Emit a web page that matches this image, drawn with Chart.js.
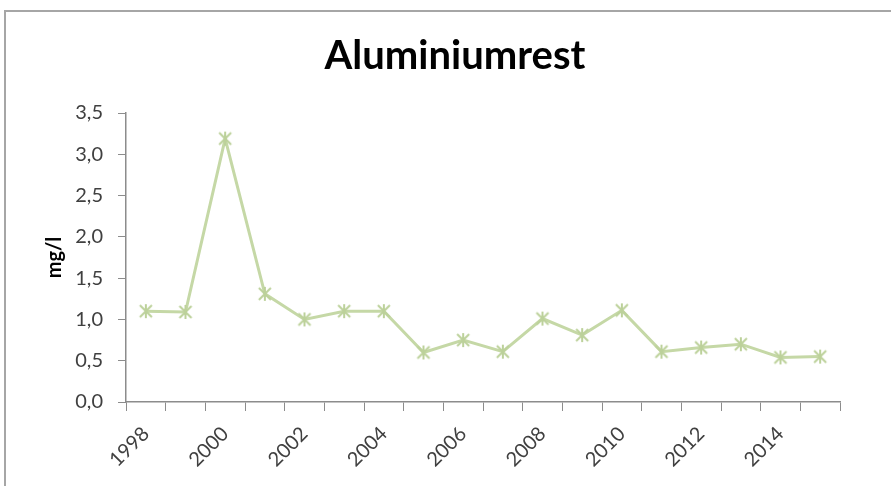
<!DOCTYPE html>
<html>
<head>
<meta charset="utf-8">
<script src="https://cdn.jsdelivr.net/npm/chart.js@4"></script>
<style>
  html, body { margin: 0; padding: 0; background: #fff; }
  #wrap { position: relative; width: 891px; height: 486px; overflow: hidden; }
  #frame { position: absolute; left: 4px; top: 10px; width: 900px; height: 500px; border: 2px solid #a6a6a6; box-sizing: border-box; }
  canvas { position: absolute; left: 0; top: 0; }
</style>
</head>
<body>
<div id="wrap">
  <div id="frame"></div>
  <canvas id="chart" width="891" height="486"></canvas>
</div>
<script>
var years = ['1998', '1999', '2000', '2001', '2002', '2003', '2004', '2005', '2006',
             '2007', '2008', '2009', '2010', '2011', '2012', '2013', '2014', '2015'];
var aluminium = [1.1, 1.09, 3.19, 1.31, 1.0, 1.1, 1.1, 0.6, 0.75,
                 0.61, 1.01, 0.81, 1.11, 0.61, 0.66, 0.7, 0.54, 0.55];
var yTicks = [0, 0.5, 1, 1.5, 2, 2.5, 3, 3.5];

// excel style star marker: an X with a vertical bar
function makeMarker() {
  var c = document.createElement('canvas');
  c.width = 16;
  c.height = 16;
  var g = c.getContext('2d');
  g.strokeStyle = '#bcd19a';
  g.lineWidth = 2;
  g.beginPath();
  g.moveTo(2, 2); g.lineTo(14, 14);
  g.moveTo(14, 2); g.lineTo(2, 14);
  g.moveTo(8, 1); g.lineTo(8, 15);
  g.stroke();
  return c;
}

var axisGrey = '#8c8c8c';

var ctx = document.getElementById('chart').getContext('2d');
new Chart(ctx, {
  type: 'line',
  data: {
    labels: years,
    datasets: [{
      label: 'Aluminiumrest',
      data: aluminium,
      borderColor: '#c5d8a6',
      backgroundColor: '#c5d8a6',
      borderWidth: 3,
      pointStyle: makeMarker(),
      pointRadius: 8,
      tension: 0
    }]
  },
  options: {
    responsive: false,
    animation: false,
    layout: { padding: { top: 0, right: 0, bottom: 0, left: 19 } },
    plugins: {
      legend: { display: false },
      tooltip: { enabled: false },
      title: {
        display: true,
        text: 'Aluminiumrest',
        color: '#000',
        font: { family: 'Lato', size: 40, weight: 'bold', lineHeight: 1.2 },
        padding: { top: 32, bottom: 33 }
      }
    },
    scales: {
      x: {
        offset: true,
        grid: { offset: true, drawOnChartArea: false, tickLength: 9, color: axisGrey, tickColor: axisGrey },
        border: { color: axisGrey, width: 1.5 },
        ticks: {
          autoSkip: false,
          maxRotation: 45,
          minRotation: 45,
          padding: 11,
          color: '#404040',
          font: { family: 'Lato', size: 20 },
          callback: function(v, i) { return i % 2 === 0 ? years[i] : ''; }
        },
        afterFit: function(scale) { scale.height = 84; }
      },
      y: {
        min: 0,
        max: 3.5,
        afterBuildTicks: function(scale) { scale.ticks = yTicks.map(function(v) { return { value: v }; }); },
        grid: { drawOnChartArea: false, tickLength: 8, color: axisGrey, tickColor: axisGrey },
        border: { color: axisGrey, width: 1.5 },
        ticks: {
          padding: 15,
          color: '#404040',
          font: { family: 'Lato', size: 20 },
          callback: function(v) { return v.toFixed(1).replace('.', ','); }
        },
        title: {
          display: true,
          text: 'mg/l',
          color: '#000',
          font: { family: 'Lato', size: 20, weight: 'bold', lineHeight: 1.2 },
          padding: { top: 24, bottom: 0 }
        },
        afterFit: function(scale) { scale.width = 107; }
      },
      // empty right axis, only reserves the space right of the plot
      spacer: {
        position: 'right',
        min: 0,
        max: 1,
        grid: { display: false },
        border: { display: false },
        ticks: { display: false },
        afterFit: function(scale) { scale.width = 51; }
      }
    }
  }
});
</script>
</body>
</html>
